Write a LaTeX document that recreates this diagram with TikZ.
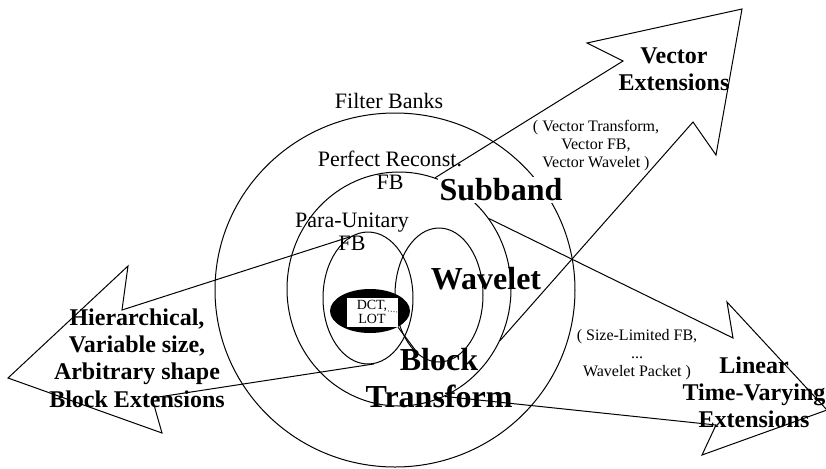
\documentclass[tikz,border=0pt]{standalone}
\usepackage{fontspec}
\setmainfont{Liberation Serif}
\usetikzlibrary{shapes.geometric}
\tikzset{ring/.style = {draw, ellipse, inner sep = 0}}
\tikzset{blob/.style = {fill, ellipse, inner sep = 0}}
\tikzset{outline/.style = {line join = miter}}
\tikzset{lbl/.style = {align = center, inner sep = 0}}
\tikzset{setname/.style = {lbl, font = \fontsize{11}{11.5}\selectfont}}
\tikzset{big/.style = {lbl, font = \bfseries\fontsize{16}{18.5}\selectfont}}
\tikzset{ext/.style = {lbl, font = \bfseries\fontsize{12}{13.6}\selectfont}}
\tikzset{note/.style = {lbl, font = \fontsize{8}{9}\selectfont}}

\begin{document}
\begin{tikzpicture}[x=0.5pt, y=-0.5pt, line width=0.5pt]
      \useasboundingbox (0, 0) rectangle (826, 468);
      \node [ring, minimum width=180pt, minimum height=177pt] (fb) at (395, 290) {};
      \node [ring, minimum width=112pt, minimum height=117pt] (pr) at (399, 289) {};
      \node [ring, minimum width=45pt, minimum height=66pt] (pu) at (368, 298) {};
      \node [ring, minimum width=44pt, minimum height=67pt] (wav) at (439, 295) {};
      \node [blob, minimum width=40pt, minimum height=22pt] (dct) at (370, 311) {};
      \node [lbl, fill=white, minimum width=25.5pt, minimum height=14.5pt,
             font=\fontsize{7}{5.5}\selectfont] (box) at (372, 312) {DCT,\\LOT};
      \coordinate (comma) at (388, 311);
      \draw [densely dotted, line width=0.4pt] (comma) -- (box.east);

      \node [setname] (fbname) at (389, 101) {Filter Banks};
      \node [setname] (prname) at (390, 170) {Perfect Reconst.\\FB};
      \node [setname] (puname) at (352, 232) {Para-Unitary\\FB};
      \node [big, fill=white, inner sep=1pt] (subband) at (501, 190) {Subband};
      \node [big] (wavelet) at (486, 279) {Wavelet};
      \node [big] (block) at (439, 378) {Block\\Transform};
      \coordinate (lead) at (416, 351);
      \draw (dct.-30) -- (lead);

      \node [ext] (vecext) at (674, 69) {Vector\\Extensions};
      \node [note] (vecnote) at (596, 146) {( Vector Transform,\\Vector FB,\\Vector Wavelet )};
      \node [ext] (blkext) at (137, 358) {Hierarchical,\\Variable size,\\Arbitrary shape\\Block Extensions};
      \node [note] (ltvnote) at (637, 355) {( Size-Limited FB,\\...\\Wavelet Packet )};
      \node [ext] (ltvext) at (754, 392) {Linear\\Time-Varying\\Extensions};

      \draw [outline] (pr.72) -- (623, 61) -- (587, 43) -- (742, 9) -- (716, 155) -- (693, 122) -- (pr.-27);
      \draw [outline] (pr.38) -- (733, 338) -- (727, 302) -- (827, 410) -- (702, 455) -- (716, 425) -- (pr.-67);
      \draw [outline] (pu.106) -- (122, 310) -- (128, 266) -- (8, 378) -- (162, 433) -- (152, 398) -- (pu.-85);
    \end{tikzpicture}
\end{document}
